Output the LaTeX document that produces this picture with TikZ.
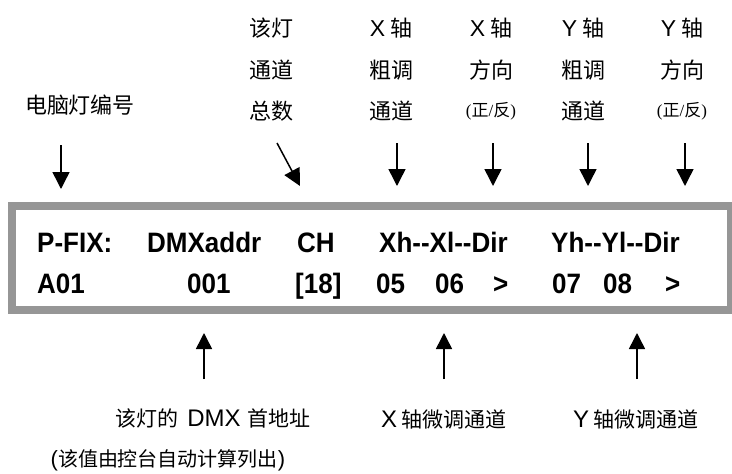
\documentclass[tikz,border=0pt]{standalone}
\usepackage{fontspec}
\setmainfont{Liberation Sans}
\newfontfamily\cjk{Noto Sans CJK SC}
\newfontfamily\arialf{Liberation Sans}
\newfontfamily\timesf{Liberation Serif}
\usetikzlibrary{arrows.meta}
\definecolor{frameg}{RGB}{150,150,150}
\newcommand\lcdtext[1]{\scalebox{1}[1.08]{#1}}
\begin{document}
\begin{tikzpicture}[x=1pt,y=-1pt,
  lab/.style={inner sep=0pt, font=\fontsize{22}{22}\selectfont\cjk},
  blab/.style={inner sep=0pt, font=\fontsize{21}{21}\selectfont\cjk},
  smalllab/.style={inner sep=0pt, font=\fontsize{17}{17}\selectfont\cjk},
  lcd/.style={inner sep=0pt, anchor=base west, font=\fontsize{26}{26}\selectfont\bfseries},
  darr/.style={line width=1.5pt, -{Triangle[length=17pt,width=17pt]}},
  uarr/.style={line width=1.5pt, -{Triangle[length=16pt,width=16pt]}},
]
\useasboundingbox (0,0) rectangle (732,474);

% frame
\draw[frameg, line width=8pt] (12,206) rectangle (731,310);

% top labels
\node[lab] (lnum) at (80,105) {电脑灯编号};
\node[lab] (c1a) at (271,28) {该灯};
\node[lab] (c1b) at (271,70) {通道};
\node[lab] (c1c) at (271,111) {总数};
\node[lab] (c2a) at (391,28) {{\arialf\fontsize{23}{23}\selectfont X} 轴};
\node[lab] (c2b) at (391,70) {粗调};
\node[lab] (c2c) at (391,111) {通道};
\node[lab] (c3a) at (491,28) {{\arialf\fontsize{23}{23}\selectfont X} 轴};
\node[lab] (c3b) at (491,70) {方向};
\node[smalllab] (c3c) at (491,111) {{\timesf (}正{\timesf /}反{\timesf )}};
\node[lab] (c4a) at (583,28) {{\arialf\fontsize{23}{23}\selectfont Y} 轴};
\node[lab] (c4b) at (583,70) {粗调};
\node[lab] (c4c) at (583,111) {通道};
\node[lab] (c5a) at (682,28) {{\arialf\fontsize{23}{23}\selectfont Y} 轴};
\node[lab] (c5b) at (682,70) {方向};
\node[smalllab] (c5c) at (682,111) {{\timesf (}正{\timesf /}反{\timesf )}};

% down arrows
\coordinate (d1s) at (61,145);  \coordinate (d1e) at (61,189);
\coordinate (d2s) at (277,143); \coordinate (d2e) at (300,186);
\coordinate (d3s) at (397,143); \coordinate (d3e) at (397,186);
\coordinate (d4s) at (493,143); \coordinate (d4e) at (493,186);
\coordinate (d5s) at (588,143); \coordinate (d5e) at (588,186);
\coordinate (d6s) at (685,143); \coordinate (d6e) at (685,186);
\foreach \i in {1,...,6} \draw[darr] (d\i s) -- (d\i e);

% LCD text
\node[lcd] (t1) at (37,252) {\lcdtext{P-FIX:}};
\node[lcd] (t2) at (147,252) {\lcdtext{DMXaddr}};
\node[lcd] (t3) at (297,252) {\lcdtext{CH}};
\node[lcd] (t4) at (379,252) {\lcdtext{Xh-{}-Xl-{}-Dir}};
\node[lcd] (t5) at (551,252) {\lcdtext{Yh-{}-Yl-{}-Dir}};
\node[lcd] (v1) at (37,293) {\lcdtext{A01}};
\node[lcd] (v2) at (187,293) {\lcdtext{001}};
\node[lcd] (v3) at (295,293) {\lcdtext{[18]}};
\node[lcd] (v4) at (376,293) {\lcdtext{05}};
\node[lcd] (v5) at (435,293) {\lcdtext{06}};
\node[lcd] (v6) at (493,293) {\lcdtext{>}};
\node[lcd] (v7) at (552,293) {\lcdtext{07}};
\node[lcd] (v8) at (603,293) {\lcdtext{08}};
\node[lcd] (v9) at (665,293) {\lcdtext{>}};

% up arrows
\coordinate (u1s) at (204,379); \coordinate (u1e) at (204,333);
\coordinate (u2s) at (444,379); \coordinate (u2e) at (444,333);
\coordinate (u3s) at (637,379); \coordinate (u3e) at (637,333);
\foreach \i in {1,2,3} \draw[uarr] (u\i s) -- (u\i e);

% bottom labels
\node[blab] (b1) at (213,419) {该灯的\hspace{9pt}{\arialf\fontsize{24}{24}\selectfont DMX}\hspace{7pt}首地址};
\node[blab] (b2) at (168,460) {\fontsize{20}{20}\selectfont{\arialf\fontsize{22}{22}\selectfont (}该值由控台自动计算列出{\arialf\fontsize{22}{22}\selectfont )}};
\node[blab] (b3) at (444,419) {{\arialf\fontsize{24}{24}\selectfont X} 轴微调通道};
\node[blab] (b4) at (636,419) {{\arialf\fontsize{24}{24}\selectfont Y} 轴微调通道};
\end{tikzpicture}
\end{document}
